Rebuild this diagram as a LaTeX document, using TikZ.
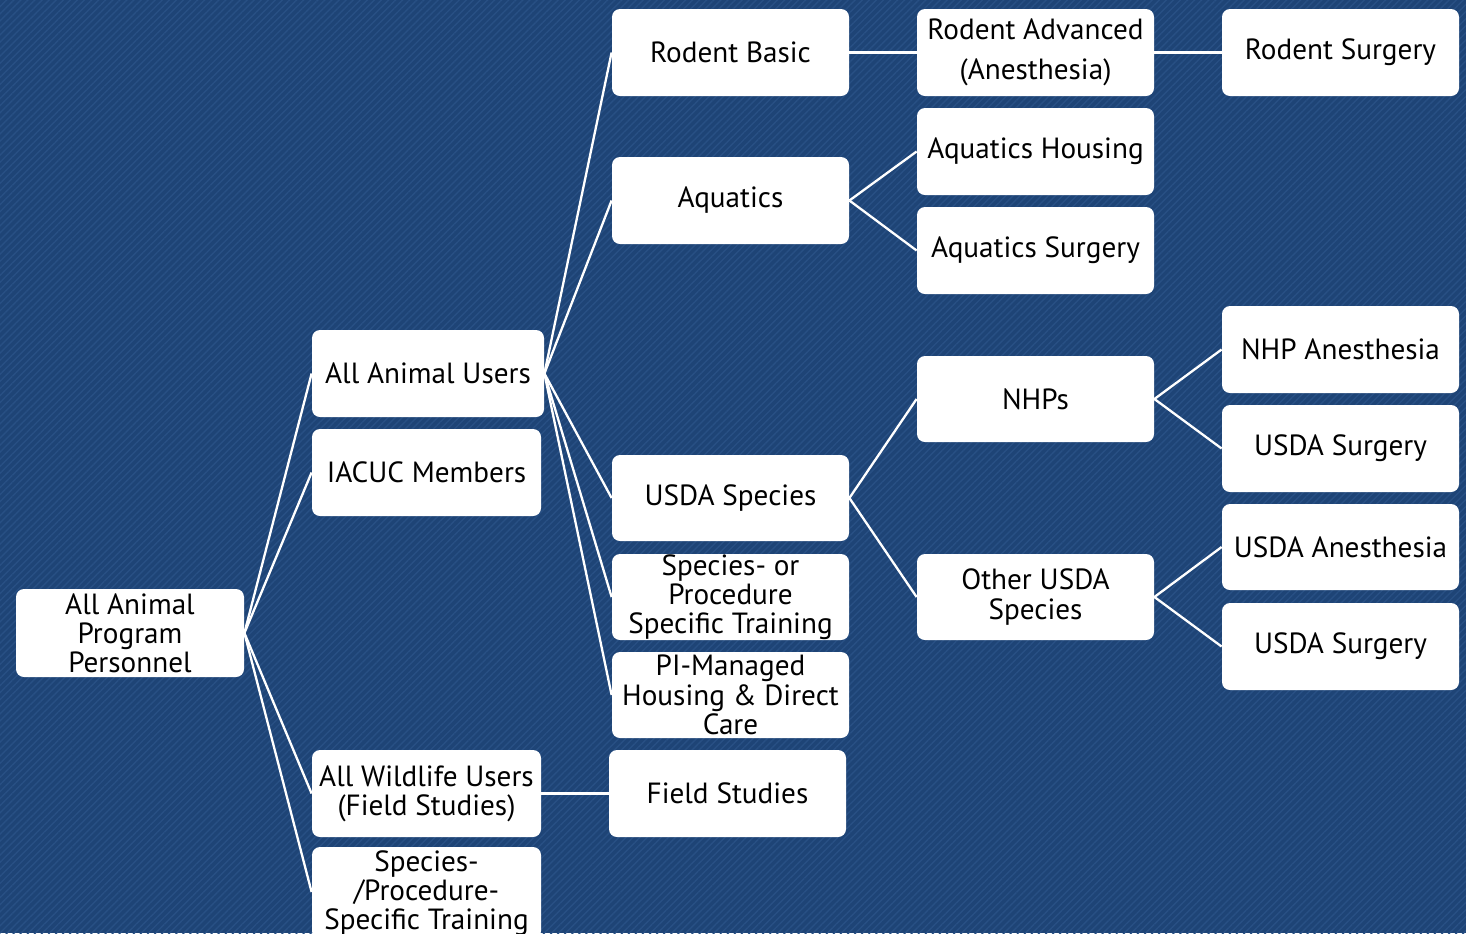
\documentclass[tikz,border=0pt]{standalone}
\usepackage{fontspec}
\setmainfont{PT Sans}
\usetikzlibrary{patterns.meta}
\definecolor{bgblue}{RGB}{30,68,118}
\definecolor{stripe}{RGB}{40,80,132}
\tikzset{
  bx/.style 2 args={draw=none, fill=white, rounded corners=4pt, align=center, inner sep=0pt,
    minimum width=#1*0.5pt, minimum height=#2*0.5pt, text=black,
    font=\fontsize{14.6}{14.6}\selectfont},
  link/.style={draw=white, line width=1.15pt}
}
\begin{document}
\begin{tikzpicture}[x=0.5pt,y=-0.5pt]
\useasboundingbox (0,0) rectangle (1466,933);
\fill[bgblue] (0,0) rectangle (1466,933);
\pattern[pattern={Lines[angle=45,distance=2.5pt,line width=0.7pt]}, pattern color=stripe] (0,0) rectangle (1466,933);
% nodes
\node[bx={228}{88}] (root) at (130,633) {All Animal\\Program\\Personnel};
\node[bx={232}{87}] (aau) at (428,373.5) {All Animal Users};
\node[bx={229}{87}] (iacuc) at (426.5,472.5) {IACUC Members};
\node[bx={229}{87}] (wild) at (426.5,793.5) {All Wildlife Users\\(Field Studies)};
\node[bx={229}{92}] (spt) at (426.5,893) {Species-\\/Procedure-\\Specific Training};
\node[bx={237}{87}] (rb) at (730.5,52.5) {Rodent Basic};
\node[bx={237}{87}] (aq) at (730.5,200.5) {Aquatics};
\node[bx={237}{86}] (usda) at (730.5,498) {USDA Species};
\node[bx={237}{86}] (sop) at (730.5,597) {Species- or\\Procedure\\Specific Training};
\node[bx={237}{86}] (pim) at (730.5,695) {PI-Managed\\Housing \& Direct\\Care};
\node[bx={237}{87}] (fs) at (727.5,793.5) {Field Studies};
\node[bx={237}{87}, font=\fontsize{14.6}{20}\selectfont] (ra) at (1035.5,52.5) {Rodent Advanced\\(Anesthesia)};
\node[bx={237}{87}] (ah) at (1035.5,151.5) {Aquatics Housing};
\node[bx={237}{87}] (as) at (1035.5,250.5) {Aquatics Surgery};
\node[bx={237}{86}] (nhp) at (1035.5,399) {NHPs};
\node[bx={237}{86}] (ous) at (1035.5,597) {Other USDA\\Species};
\node[bx={237}{87}] (rs) at (1340.5,52.5) {Rodent Surgery};
\node[bx={237}{87}] (nhpa) at (1340.5,349.5) {NHP Anesthesia};
\node[bx={237}{87}] (us1) at (1340.5,448.5) {USDA Surgery};
\node[bx={237}{86}] (usa) at (1340.5,547) {USDA Anesthesia};
\node[bx={237}{87}] (us2) at (1340.5,646.5) {USDA Surgery};
% links
\foreach \c in {aau,iacuc,wild} \draw[link] (root.east) -- (\c.west);
\draw[link] (root.east) -- (spt.west |- 0,892);
\foreach \c in {rb,aq,usda,sop,pim} \draw[link] (aau.east) -- (\c.west);
\draw[link] (rb.east) -- (ra.west);
\draw[link] (ra.east) -- (rs.west);
\foreach \c in {ah,as} \draw[link] (aq.east) -- (\c.west);
\foreach \c in {nhp,ous} \draw[link] (usda.east) -- (\c.west);
\foreach \c in {nhpa,us1} \draw[link] (nhp.east) -- (\c.west);
\foreach \c in {usa,us2} \draw[link] (ous.east) -- (\c.west);
\draw[link] (wild.east) -- (fs.west);
\end{tikzpicture}
\end{document}
